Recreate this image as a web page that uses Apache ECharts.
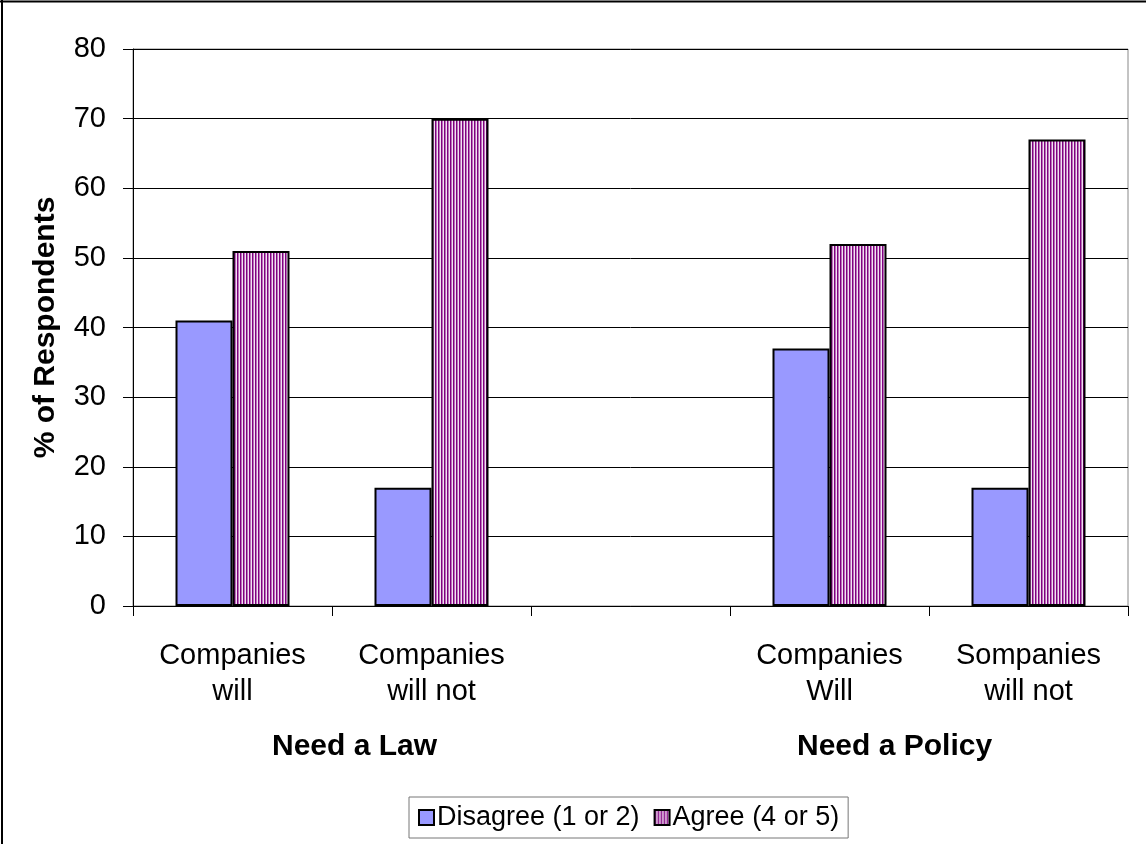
<!DOCTYPE html>
<html>
<head>
<meta charset="utf-8">
<script src="https://cdn.jsdelivr.net/npm/echarts@6/dist/echarts.min.js"></script>
<style>
  html, body { margin: 0; padding: 0; background: #fff; }
  #chart { width: 1146px; height: 844px; }
</style>
</head>
<body>
<div id="chart"></div>
<script>
// data
var categories = ['Companies\nwill', 'Companies\nwill not', '', 'Companies\nWill', 'Sompanies\nwill not'];
var disagree = [41, 17, null, 37, 17];
var agree = [51, 70, null, 52, 67];
var groupLabels = ['Need a Law', 'Need a Policy'];

// vertical stripe fill for the "Agree" bars
function stripes() {
    var c = document.createElement('canvas');
    c.width = 3; c.height = 4;
    var ctx = c.getContext('2d');
    ctx.fillStyle = '#f2e2f2';
    ctx.fillRect(0, 0, 3, 4);
    ctx.fillStyle = '#800080';
    ctx.fillRect(0, 0, 1.5, 4);
    return c;
}

var chart = echarts.init(document.getElementById('chart'));
var font = 'Arial, "Liberation Sans", sans-serif';

var option = {
    animation: false,
    backgroundColor: '#fff',
    textStyle: { fontFamily: font },
    grid: { left: 133, top: 49, right: 18, bottom: 238, show: true, borderColor: '#888', borderWidth: 1 },
    legend: {
        bottom: 6,
        left: 409,
        icon: 'rect',
        itemWidth: 15,
        itemHeight: 15,
        itemGap: 14,
        padding: [7, 9, 7, 9],
        borderColor: '#777',
        borderWidth: 1,
        textStyle: { fontSize: 27, color: '#000', fontFamily: font, padding: [0, 0, 0, -2] },
        data: ['Disagree (1 or 2)', 'Agree (4 or 5)']
    },
    xAxis: {
        type: 'category',
        data: categories,
        axisLine: { lineStyle: { color: '#000', width: 1 } },
        axisTick: { show: true, length: 10, lineStyle: { color: '#000' } },
        axisLabel: { fontSize: 29, color: '#000', lineHeight: 36, margin: 32, interval: 0, fontFamily: font }
    },
    yAxis: {
        type: 'value',
        min: 0, max: 80, interval: 10,
        name: '% of Respondents',
        nameLocation: 'middle',
        nameGap: 72,
        nameTextStyle: { fontSize: 30, fontWeight: 'bold', color: '#000', fontFamily: font },
        axisLine: { show: true, lineStyle: { color: '#000' } },
        axisTick: { show: true, length: 10, lineStyle: { color: '#000' } },
        axisLabel: { fontSize: 29, color: '#000', margin: 27, fontFamily: font },
        splitLine: { lineStyle: { color: '#000', width: 1 } }
    },
    series: [
        {
            name: 'Disagree (1 or 2)',
            type: 'bar',
            data: disagree,
            barWidth: 57,
            barGap: '0%',
            itemStyle: { color: '#9999ff', borderColor: '#000', borderWidth: 2 }
        },
        {
            name: 'Agree (4 or 5)',
            type: 'bar',
            data: agree,
            barWidth: 57,
            itemStyle: { color: { image: stripes(), repeat: 'repeat' }, borderColor: '#000', borderWidth: 2 }
        }
    ],
    graphic: [
        { type: 'line', shape: { x1: 0, y1: 1.5, x2: 1146, y2: 1.5 }, style: { stroke: '#000', lineWidth: 2 } },
        { type: 'line', shape: { x1: 2, y1: 0, x2: 2, y2: 844 }, style: { stroke: '#000', lineWidth: 2 } },
        { type: 'text', left: 272, top: 732, style: { text: groupLabels[0], font: 'bold 30px ' + font, fill: '#000' } },
        { type: 'text', left: 797, top: 732, style: { text: groupLabels[1], font: 'bold 30px ' + font, fill: '#000' } }
    ]
};

chart.setOption(option);
</script>
</body>
</html>
